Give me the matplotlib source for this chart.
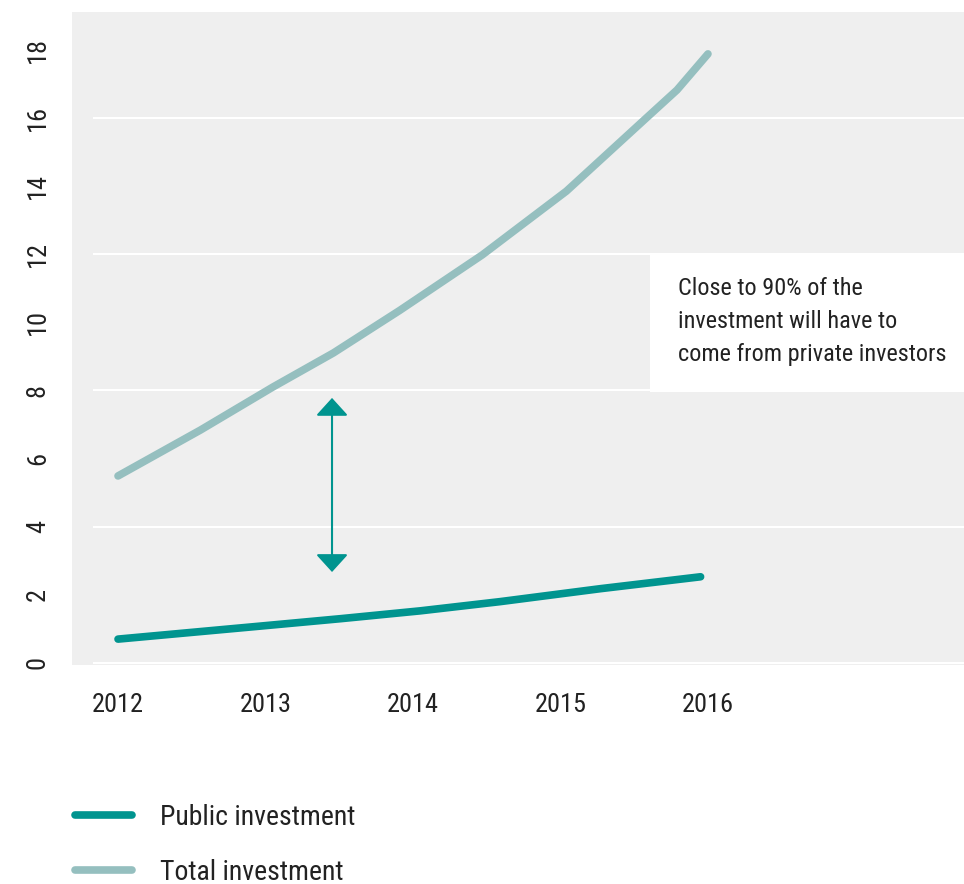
import numpy as np
import matplotlib
matplotlib.use('Agg')
import matplotlib.pyplot as plt
from matplotlib.patches import Rectangle, FancyArrowPatch
from matplotlib import font_manager

# data (x in years, y in the chart's units)
total_x = [2012.0, 2012.56, 2013.05, 2013.46, 2013.91, 2014.47, 2015.04, 2015.59, 2015.79, 2016.0]
total_y = [5.49, 6.84, 8.10, 9.10, 10.35, 11.98, 13.85, 16.03, 16.82, 17.88]
public_x = [2012.0, 2012.96, 2013.51, 2014.05, 2014.59, 2015.27, 2015.95]
public_y = [0.70, 1.08, 1.30, 1.53, 1.80, 2.18, 2.53]
year_ticks = [2012, 2013, 2014, 2015, 2016]
y_ticks = [0, 2, 4, 6, 8, 10, 12, 14, 16, 18]
grid_y = [0, 4, 8, 12, 16]
note = "Close to 90% of the\ninvestment will have to\ncome from private investors"

teal = '#00948f'
light = '#95bfbf'
bg = '#efefef'
ink = '#222222'

# narrow font if there is one, else Roboto
names = set(f.name for f in font_manager.fontManager.ttflist)
narrow = None
for n in ['Roboto Condensed', 'Liberation Sans Narrow', 'DejaVu Sans Condensed']:
    if n in names:
        narrow = n
        break
if narrow:
    fam = [narrow, 'DejaVu Sans']
    tick_fs, note_fs, leg_fs = 19, 17.5, 20
else:
    fam = ['Roboto', 'DejaVu Sans']
    tick_fs, note_fs, leg_fs = 16, 15.5, 16.5
plt.rcParams['font.family'] = fam

fig = plt.figure(figsize=(9.64, 8.84), dpi=100)
ax = fig.add_axes([72/964, 1-665/884, 1-72/964, (665-12)/884])
ax.set_facecolor(bg)
for s in ax.spines.values():
    s.set_visible(False)

xmin, xmax = 2011.688, 2017.736
ax.set_xlim(xmin, xmax)
ax.set_ylim(-0.06, 19.11)

ax.hlines(grid_y, 2011.83, xmax, colors='white', lw=1.5, zorder=1)

ax.plot(total_x, total_y, color=light, lw=5.5, solid_capstyle='round', solid_joinstyle='round',
        zorder=3, label='Total investment')
ax.plot(public_x, public_y, color=teal, lw=5.5, solid_capstyle='round', solid_joinstyle='round',
        zorder=3, label='Public investment')

# annotation box
ax.add_patch(Rectangle((2015.607, 7.96), xmax-2015.607, 4.02, facecolor='white', edgecolor='none', zorder=2))
ax.text(2015.797, 11.33, note, fontsize=note_fs, color=ink, va='top', ha='left', linespacing=1.55, zorder=4)

arr = FancyArrowPatch((2013.451, 2.67), (2013.451, 7.78), arrowstyle='<|-|>,head_length=0.55,head_width=0.5',
                      mutation_scale=20, color=teal, lw=1.5, shrinkA=0, shrinkB=0, zorder=4)
ax.add_patch(arr)

ax.set_xticks(year_ticks)
ax.set_xticklabels([str(y) for y in year_ticks], fontsize=tick_fs, color=ink)
ax.set_yticks(y_ticks)
ax.set_yticklabels([str(v) for v in y_ticks], fontsize=tick_fs, color=ink, rotation=90, va='center')
ax.tick_params(axis='x', length=0, pad=20)
ax.tick_params(axis='y', length=0, pad=16)

h, l = ax.get_legend_handles_labels()
fig.legend(h[::-1], l[::-1], loc='upper left', bbox_to_anchor=(50/964, 1-779/884), frameon=False,
           fontsize=leg_fs, handlelength=2.05, handletextpad=1.0, labelspacing=1.0, labelcolor=ink)

fig.savefig('out.png', dpi=100)
